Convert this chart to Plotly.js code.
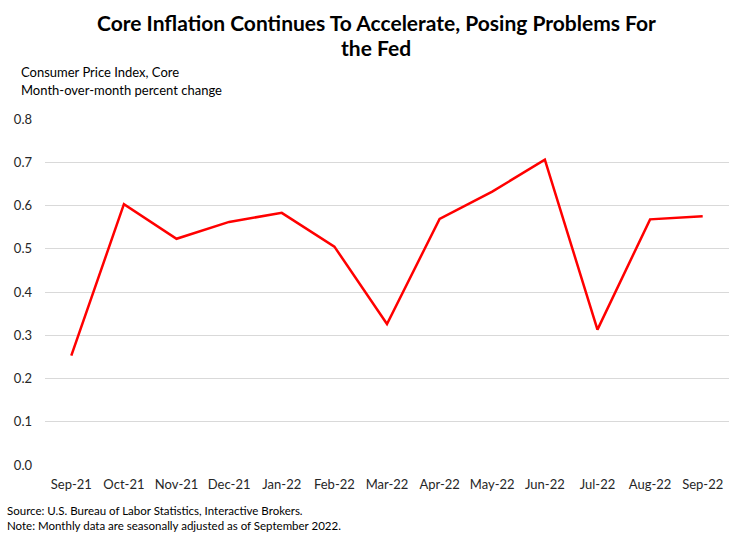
<!DOCTYPE html>
<html>
<head>
<meta charset="utf-8">
<script src="https://cdn.plot.ly/plotly-3.0.1.min.js"></script>
<style>html,body{margin:0;padding:0;background:#fff;}#chart{width:750px;height:544px;}</style>
</head>
<body>
<div id="chart"></div>
<script>
const months = ["Sep-21","Oct-21","Nov-21","Dec-21","Jan-22","Feb-22","Mar-22","Apr-22","May-22","Jun-22","Jul-22","Aug-22","Sep-22"];
const coreCpiMoM = [0.253,0.603,0.523,0.562,0.583,0.505,0.326,0.569,0.632,0.706,0.313,0.568,0.575];
const yTicks = [0,0.1,0.2,0.3,0.4,0.5,0.6,0.7,0.8];

const font = "Lato, 'Open Sans', sans-serif";
const trace = {
  x: months, y: coreCpiMoM, type: 'scatter', mode: 'lines',
  line: {color: '#ff0000', width: 2.5}, hoverinfo: 'skip'
};
const layout = {
  width: 750, height: 544,
  margin: {l: 45, r: 21, t: 119, b: 79},
  paper_bgcolor: '#fff', plot_bgcolor: '#fff',
  showlegend: false,
  font: {family: font, color: '#262626', size: 13},
  xaxis: {
    type: 'category', range: [-0.5, 12.5], showgrid: false, zeroline: false,
    showline: false, ticks: '', tickfont: {size: 13, color: '#262626', family: font},
    ticklabelstandoff: 10, fixedrange: true
  },
  yaxis: {
    range: [0, 0.8], tickvals: yTicks, tickformat: '.1f',
    showgrid: true, gridcolor: '#d9d9d9', gridwidth: 1,
    zeroline: false, showline: false, ticks: '',
    tickfont: {size: 13, color: '#262626', family: font},
    ticklabelstandoff: 12, fixedrange: true
  },
  annotations: [
    {text: '<b>Core Inflation Continues To Accelerate, Posing Problems For</b>', xref: 'paper', yref: 'paper', x: (376-45)/684, y: (465-22)/346, xanchor: 'center', yanchor: 'middle', showarrow: false, font: {size: 21, family: font, color: '#000'}},
    {text: '<b>the Fed</b>', xref: 'paper', yref: 'paper', x: (376-45)/684, y: (465-47)/346, xanchor: 'center', yanchor: 'middle', showarrow: false, font: {size: 21, family: font, color: '#000'}},
    {text: 'Consumer Price Index, Core', xref: 'paper', yref: 'paper', x: -0.038, y: (465-72)/346, xanchor: 'left', yanchor: 'middle', showarrow: false, font: {size: 13, family: font, color: '#000'}},
    {text: 'Month-over-month percent change', xref: 'paper', yref: 'paper', x: -0.038, y: (465-90)/346, xanchor: 'left', yanchor: 'middle', showarrow: false, font: {size: 13, family: font, color: '#000'}},
    {text: 'Source: U.S. Bureau of Labor Statistics, Interactive Brokers.', xref: 'paper', yref: 'paper', x: -0.059, y: (465-510)/346, xanchor: 'left', yanchor: 'middle', showarrow: false, font: {size: 11.5, family: font, color: '#000'}},
    {text: 'Note: Monthly data are seasonally adjusted as of September 2022.', xref: 'paper', yref: 'paper', x: -0.059, y: (465-525)/346, xanchor: 'left', yanchor: 'middle', showarrow: false, font: {size: 11.5, family: font, color: '#000'}}
  ]
};
Plotly.newPlot('chart', [trace], layout, {displayModeBar: false, staticPlot: true});
</script>
</body>
</html>
